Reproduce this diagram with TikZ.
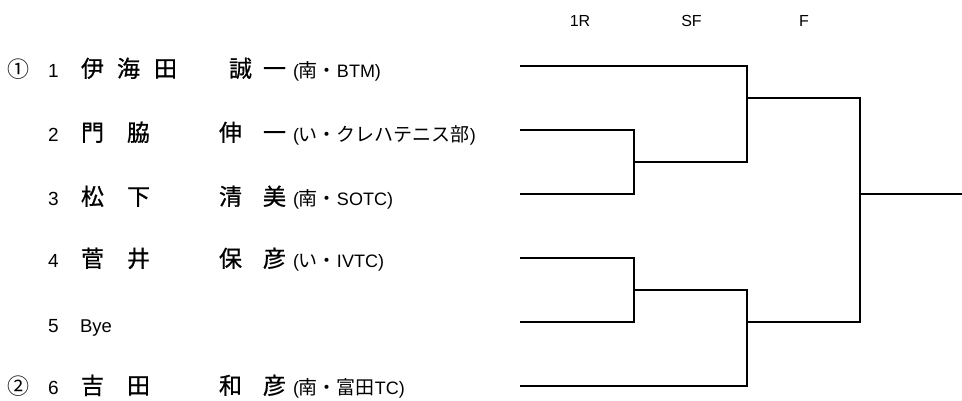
\documentclass[tikz,border=0pt]{standalone}
\usepackage{fontspec}
\setmainfont{Liberation Sans}
\newfontfamily\jpfont{Noto Sans CJK JP}
\newfontfamily\jpname{Noto Sans CJK JP}[FakeBold=0.8]
\newcommand\jpaff{\jpfont\fontsize{19}{19}\selectfont}
\begin{document}
\begin{tikzpicture}[x=1pt,y=-1pt,
  bline/.style={line width=1.3pt, line cap=rect},
  txt/.style={inner sep=0pt, outer sep=0pt, anchor=base west},
  hdr/.style={inner sep=0pt, anchor=base, font=\fontsize{16}{16}\selectfont},
  seed/.style={txt, font=\jpfont\fontsize{22}{22}\selectfont},
  num/.style={txt, font=\fontsize{19}{19}\selectfont},
  nm/.style={txt, font=\jpname\fontsize{23}{23}\selectfont},
  aff/.style={txt, font=\fontsize{18}{18}\selectfont},
  lat/.style={txt, font=\fontsize{18.5}{18.5}\selectfont}]
\useasboundingbox (0,0) rectangle (962,400);
% headers
\node[hdr] (h1) at (580,26.5) {1R};
\node[hdr] (h2) at (691.5,26.5) {SF};
\node[hdr] (h3) at (804,26.5) {F};
% row 1
\node[seed] (s1) at (8,77) {①};
\node[num] (n1) at (48,77) {1};
\node[nm] (k11) at (81,77) {伊};
\node[nm] (k12) at (117,77) {海};
\node[nm] (k13) at (154,77) {田};
\node[nm] (k14) at (229,77) {誠};
\node[nm] (k15) at (263,77) {一};
\node[aff] (a1) at (293,77) {({\jpaff 南・}BTM)};
% row 2
\node[num] (n2) at (48,141) {2};
\node[nm] (k21) at (81,141) {門};
\node[nm] (k22) at (127,141) {脇};
\node[nm] (k23) at (219,141) {伸};
\node[nm] (k24) at (263,141) {一};
\node[aff] (a2) at (293,141) {({\jpaff い・クレハテニス部})};
% row 3
\node[num] (n3) at (48,205) {3};
\node[nm] (k31) at (81,205) {松};
\node[nm] (k32) at (127,205) {下};
\node[nm] (k33) at (219,205) {清};
\node[nm] (k34) at (263,205) {美};
\node[aff] (a3) at (293,205) {({\jpaff 南・}SOTC)};
% row 4
\node[num] (n4) at (48,267) {4};
\node[nm] (k41) at (81,267) {菅};
\node[nm] (k42) at (127,267) {井};
\node[nm] (k43) at (219,267) {保};
\node[nm] (k44) at (263,267) {彦};
\node[aff] (a4) at (293,267) {({\jpaff い・}IVTC)};
% row 5
\node[num] (n5) at (48,332) {5};
\node[lat] (b5) at (80,332) {Bye};
% row 6
\node[seed] (s6) at (8,394) {②};
\node[num] (n6) at (48,394) {6};
\node[nm] (k61) at (81,394) {吉};
\node[nm] (k62) at (127,394) {田};
\node[nm] (k63) at (219,394) {和};
\node[nm] (k64) at (263,394) {彦};
\node[aff] (a6) at (293,394) {({\jpaff 南・富田}TC)};
% bracket coordinates
\coordinate (p1) at (521,66);
\coordinate (p2) at (521,130);
\coordinate (p3) at (521,194);
\coordinate (p4) at (521,258);
\coordinate (p5) at (521,322);
\coordinate (p6) at (521,386);
\coordinate (m2) at (634,130);
\coordinate (m3) at (634,194);
\coordinate (m4) at (634,258);
\coordinate (m5) at (634,322);
\coordinate (wA) at (634,162);
\coordinate (wB) at (634,290);
\coordinate (t1) at (747,66);
\coordinate (tA) at (747,162);
\coordinate (tB) at (747,290);
\coordinate (t6) at (747,386);
\coordinate (u1) at (747,98);
\coordinate (u2) at (747,322);
\coordinate (f1) at (860,98);
\coordinate (f2) at (860,322);
\coordinate (fo) at (860,194);
\coordinate (ch) at (962,194);
% first round
\draw[bline] (p2) -- (m2) -- (m3) -- (p3);
\draw[bline] (p4) -- (m4) -- (m5) -- (p5);
% semifinals
\draw[bline] (p1) -- (t1) -- (tA) -- (wA);
\draw[bline] (wB) -- (tB) -- (t6) -- (p6);
% final
\draw[bline] (u1) -- (f1) -- (f2) -- (u2);
\draw[bline] (fo) -- (ch);
\end{tikzpicture}
\end{document}
